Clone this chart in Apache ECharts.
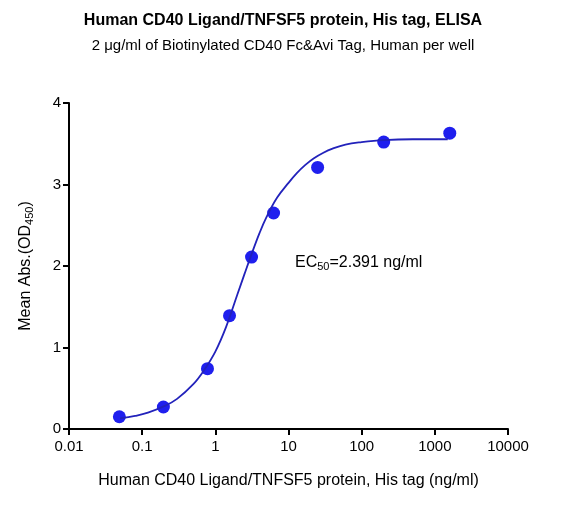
<!DOCTYPE html>
<html><head><meta charset="utf-8">
<script src="https://cdn.jsdelivr.net/npm/echarts@6/dist/echarts.min.js"></script>
<style>html,body{margin:0;padding:0;background:#fff}#c{width:566px;height:506px}</style>
</head><body><div id="c"></div>
<script>
const concentrations = [0.0488, 0.195, 0.781, 1.5625, 3.125, 6.25, 25, 200, 1600];
const absorbance = [0.15, 0.27, 0.74, 1.39, 2.11, 2.65, 3.21, 3.52, 3.63];
const curveX = [0.05, 0.08, 0.12, 0.2, 0.3, 0.5, 0.7, 1, 1.4, 2, 2.5, 3, 4, 5, 7, 10, 13, 17, 22, 30, 40, 60, 100, 200, 500, 1000, 1500];
const curveY = [0.13, 0.16, 0.2, 0.28, 0.37, 0.55, 0.72, 0.95, 1.25, 1.65, 1.9, 2.1, 2.4, 2.6, 2.84, 3.02, 3.14, 3.24, 3.32, 3.39, 3.44, 3.49, 3.52, 3.545, 3.555, 3.555, 3.555];
const xTicks = [0.01, 0.1, 1, 10, 100, 1000, 10000];
const chart = echarts.init(document.getElementById('c'));
const F = 'Arial, Liberation Sans, sans-serif';
chart.setOption({
  animation: false,
  title: [
    {text: 'Human CD40 Ligand/TNFSF5 protein, His tag, ELISA', left: 'center', top: 8,
     textStyle: {fontFamily: F, fontSize: 16, fontWeight: 'bold', color: '#000'}},
    {text: '2 μg/ml of Biotinylated CD40 Fc&Avi Tag, Human per well', left: 'center', top: 33,
     textStyle: {fontFamily: F, fontSize: 15, fontWeight: 'normal', color: '#000'}}
  ],
  grid: {left: 69, right: 58, top: 103, bottom: 77},
  xAxis: {
    type: 'log', logBase: 10, min: 0.01, max: 10000,
    name: 'Human CD40 Ligand/TNFSF5 protein, His tag (ng/ml)', nameLocation: 'middle', nameGap: 44,
    nameTextStyle: {fontFamily: F, fontSize: 16, color: '#000'},
    axisLine: {lineStyle: {color: '#000', width: 2}},
    axisTick: {lineStyle: {color: '#000', width: 2}, length: 6},
    axisLabel: {fontFamily: F, fontSize: 15, color: '#000', margin: 10,
      formatter: v => { const t = xTicks.find(x => Math.abs(Math.log10(x) - Math.log10(v)) < 1e-6); return t === undefined ? '' : String(t); }},
    splitLine: {show: false}
  },
  yAxis: {
    type: 'value', min: 0, max: 4, interval: 1,
    name: '{a|Mean Abs.(OD}{s|450}{a|)}', nameLocation: 'middle', nameGap: 34,
    nameTextStyle: {rich: {a: {fontFamily: F, fontSize: 16, color: '#000'}, s: {fontFamily: F, fontSize: 11, color: '#000', padding: [8,0,0,0]}}},
    axisLine: {show: true, lineStyle: {color: '#000', width: 2}},
    axisTick: {show: true, lineStyle: {color: '#000', width: 2}, length: 6},
    axisLabel: {fontFamily: F, fontSize: 15, color: '#000'},
    splitLine: {show: false}
  },
  series: [
    {type: 'line', data: curveX.map((x, i) => [x, curveY[i]]), smooth: 0.4, showSymbol: false,
     lineStyle: {color: '#2222bb', width: 1.8}},
    {type: 'scatter', data: concentrations.map((x, i) => [x, absorbance[i]]), symbolSize: 13,
     itemStyle: {color: '#1f1fee', opacity: 1}}
  ],
  graphic: [{type: 'text', left: 295, top: 255,
    style: {text: '{a|EC}{s|50}{a|=2.391 ng/ml}',
      rich: {a: {fontFamily: F, fontSize: 16, fill: '#000'}, s: {fontFamily: F, fontSize: 11, fill: '#000', padding: [8,0,0,0]}}}}]
});
</script></body></html>
